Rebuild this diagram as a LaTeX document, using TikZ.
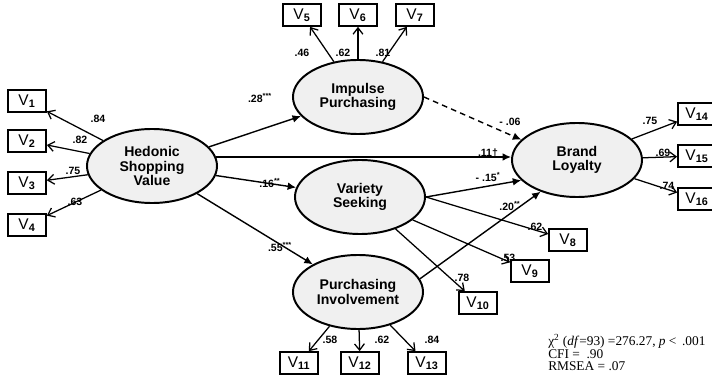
\documentclass[tikz,border=0pt]{standalone}
\usepackage{fontspec}
\setmainfont{Liberation Serif}
\setsansfont{Liberation Sans}
\usetikzlibrary{shapes.geometric,arrows.meta}
\begin{document}
\begin{tikzpicture}[x=0.025cm,y=-0.025cm,
	latent/.style={ellipse,draw,line width=1.4pt,fill=gray!12,minimum width=3.25cm,minimum height=1.85cm,inner sep=0pt,align=center,font=\sffamily\bfseries\fontsize{10}{10}\selectfont},
	obs/.style={rectangle,draw,line width=1.2pt,minimum width=0.95cm,minimum height=0.55cm,inner sep=0pt,font=\sffamily\fontsize{11}{11}\selectfont},
	lab/.style={inner sep=0pt,font=\sffamily\bfseries\fontsize{7.5}{8}\selectfont},
	load/.style={-{Straight Barb[length=4.5pt,width=7pt]},line width=0.9pt},
	reg/.style={-{Latex[length=6pt,width=5.5pt]},line width=1pt}]
	\useasboundingbox (0,0) rectangle (712,381);
	% latente Konstrukte
	\node[latent] (Hedonic) at (152,166) {Hedonic\\Shopping\\Value};
	\node[latent] (Impulse) at (358,97) {Impulse\\Purchasing};
	\node[latent] (Variety) at (360,197) {Variety\\Seeking};
	\node[latent] (Purch) at (358,292) {Purchasing\\Involvement};
	\node[latent] (Brand) at (577,160) {Brand\\Loyalty};
	% Indikatoren
	\foreach \i/\y in {1/101,2/141,3/183,4/225}
		\node[obs] (V\i) at (27,\y) {V\textsubscript{\bfseries\i}};
	\foreach \i/\x in {5/302,6/358,7/415}
		\node[obs] (V\i) at (\x,15) {V\textsubscript{\bfseries\i}};
	\foreach \i/\x/\y in {8/568/240,9/530/271,10/478/303}
		\node[obs] (V\i) at (\x,\y) {V\textsubscript{\bfseries\i}};
	\foreach \i/\x in {11/299,12/360,13/427}
		\node[obs] (V\i) at (\x,363) {V\textsubscript{\bfseries\i}};
	\foreach \i/\y in {14/114,15/156,16/199}
		\node[obs] (V\i) at (697,\y) {V\textsubscript{\bfseries\i}};
	% Ladungen
	\foreach \i in {1,...,4} \draw[load] (Hedonic) -- (V\i);
	\foreach \i in {5,6,7} \draw[load] (Impulse) -- (V\i);
	\draw[load] (Variety.east) -- (V8);
	\foreach \i in {9,10} \draw[load] (Variety) -- (V\i);
	\foreach \i in {11,12,13} \draw[load] (Purch) -- (V\i);
	\foreach \i in {14,15,16} \draw[load] (Brand) -- (V\i);
	% Strukturpfade
	\draw[reg] (Hedonic) -- (Impulse);
	\draw[reg] (Hedonic) -- (Variety);
	\draw[reg] (Hedonic) -- (Purch);
	\draw[reg] (Hedonic.8) -- (Hedonic.8 -| Brand.west);
	\draw[reg,dash pattern=on 4pt off 3pt] (Impulse.east) -- (Brand.160);
	\draw[reg] (Variety.east) -- (Brand.200);
	\draw[reg] (Purch.12) -- (Brand.221);
	% Koeffizienten
	\foreach \x/\y/\t [count=\n] in {98/119/.84,80/140/.82,73/171/.75,75/202/.63,
		302/53/.46,343/53/.62,383/53/.81,535/227/.62,508/258/.53,462/278/.78,
		330/340/.58,382/340/.62,432/340/.84,650/121/.75,663/153/.69,667/186/.74}
		\node[lab] (c\n) at (\x,\y) {\t};
	\node[lab] (b1) at (260,98) {.28\textsuperscript{***}};
	\node[lab] (b2) at (270,183) {.16\textsuperscript{**}};
	\node[lab] (b3) at (280,247) {.55\textsuperscript{***}};
	\node[lab] (b4) at (510,122) {- .06};
	\node[lab] (b5) at (488,153) {.11†};
	\node[lab] (b6) at (488,177) {- .15\textsuperscript{*}};
	\node[lab] (b7) at (510,206) {.20\textsuperscript{**}};
	% Modellguete
	\node[anchor=north west,align=left,inner sep=0pt,font=\fontsize{9.5}{8}\selectfont] (fit) at (548,334)
		{χ\textsuperscript{2} (\textit{df}=93) =276.27, \textit{p} <\, .001\\CFI = \ .90\\RMSEA = .07};
\end{tikzpicture}
\end{document}
